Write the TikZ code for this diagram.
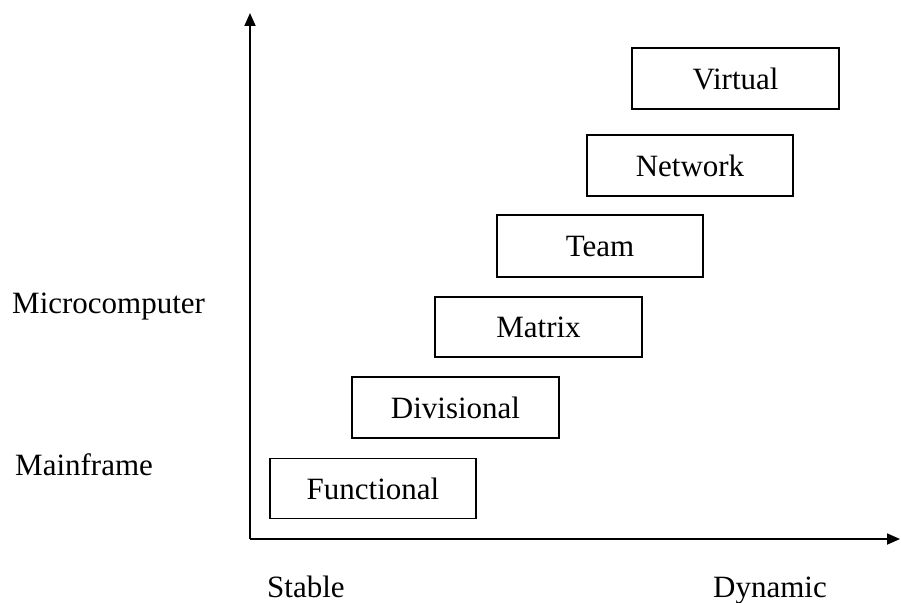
\documentclass[tikz,border=0pt]{standalone}
\usepackage{fontspec}
\setmainfont{Liberation Serif}
\usetikzlibrary{arrows.meta}
\begin{document}
\begin{tikzpicture}[x=1pt,y=-1pt,
  stagebox/.style={draw,line width=1.4pt,minimum width=206pt,minimum height=60pt,
    inner sep=0pt,font=\fontsize{31}{36}\selectfont},
  axislabel/.style={anchor=base west,inner sep=0pt,font=\fontsize{31}{36}\selectfont},
  axisline/.style={line width=1.8pt,-{Triangle[length=13pt,width=11pt]}}]
\useasboundingbox (0,0) rectangle (901,602);
% axes
\coordinate (origin) at (250,539);
\coordinate (ytip) at (250,13);
\coordinate (xtip) at (900,539);
\draw[axisline] (origin) -- (ytip);
\draw[axisline] (origin) -- (xtip);
% organisational forms
\node[stagebox] (functional) at (373,488.5) {Functional};
\node[stagebox,minimum width=207pt,minimum height=61pt] (divisional) at (455.5,407.5) {Divisional};
\node[stagebox,minimum width=207pt] (matrix) at (538.5,327) {Matrix};
\node[stagebox,minimum height=62pt] (team) at (600,246) {Team};
\node[stagebox,minimum height=61pt] (network) at (690,165.5) {Network};
\node[stagebox,minimum width=207pt,minimum height=61pt] (virtual) at (735.5,78.5) {Virtual};
% axis labels
\node[axislabel] (micro) at (12,313) {Microcomputer};
\node[axislabel] (mainframe) at (15,475) {Mainframe};
\node[axislabel] (stable) at (267,597) {Stable};
\node[axislabel] (dynamic) at (713,597) {Dynamic};
\end{tikzpicture}
\end{document}
